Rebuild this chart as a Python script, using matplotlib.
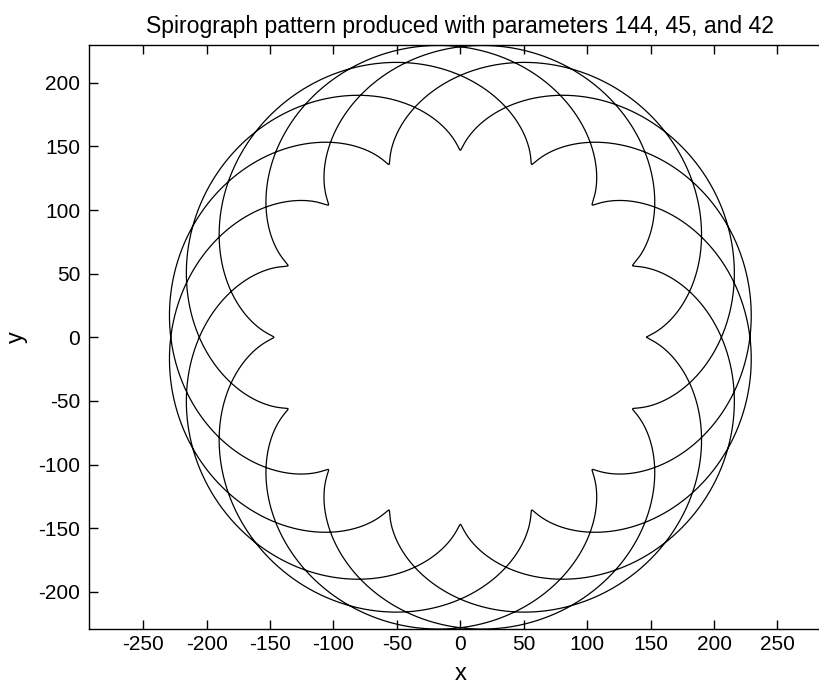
import numpy as np
import matplotlib
matplotlib.use("Agg")
import matplotlib.pyplot as plt

# spirograph (epitrochoid) parameters: fixed ring, rolling wheel, pen offset
ring_radius = 144
wheel_radius = 45
pen_offset = 42

x_ticks = [-250, -200, -150, -100, -50, 0, 50, 100, 150, 200, 250]
y_ticks = [-200, -150, -100, -50, 0, 50, 100, 150, 200]

title = f"Spirograph pattern produced with parameters {ring_radius}, {wheel_radius}, and {pen_offset}"

plt.rcParams["font.family"] = ["Liberation Sans", "DejaVu Sans"]
plt.rcParams["axes.unicode_minus"] = False

# one full closed trace: the wheel returns to start after r/gcd(R, r) turns
turns = wheel_radius // np.gcd(ring_radius, wheel_radius)
t = np.linspace(0, 2 * np.pi * turns, 20000)
k = (ring_radius + wheel_radius) / wheel_radius
xs = (ring_radius + wheel_radius) * np.cos(t) - pen_offset * np.cos(k * t)
ys = (ring_radius + wheel_radius) * np.sin(t) - pen_offset * np.sin(k * t)

fig = plt.figure(figsize=(8.2, 6.88), dpi=100)
ax = fig.add_axes([0.1089, 0.0853, 0.905, 0.849])
ax.plot(xs, ys, color="black", linewidth=0.9)

ax.set_xlim(-292.5, 292.5)
ax.set_ylim(-229.5, 229.5)
ax.set_xticks(x_ticks)
ax.set_yticks(y_ticks)
ax.tick_params(direction="in", length=6.5, width=1, labelsize=15,
               top=True, right=True, colors="black")
ax.tick_params(axis="x", pad=4.3)
ax.tick_params(axis="y", pad=6.5)
for s in ax.spines.values():
    s.set_linewidth(1)

# title is stretched to span about 630 px, as wide as the condensed original
ttl = ax.set_title(title, fontsize=16, pad=8.5)
fig.canvas.draw()
w = ttl.get_window_extent().width
ttl.set_fontsize(16 * 630 / w)

ax.set_xlabel("x", fontsize=17)
ax.set_ylabel("y", fontsize=17)
ax.xaxis.set_label_coords(0.5, -0.0577)
ax.yaxis.set_label_coords(-0.0826, 0.5)

fig.savefig("out.png", dpi=100)
plt.close(fig)
